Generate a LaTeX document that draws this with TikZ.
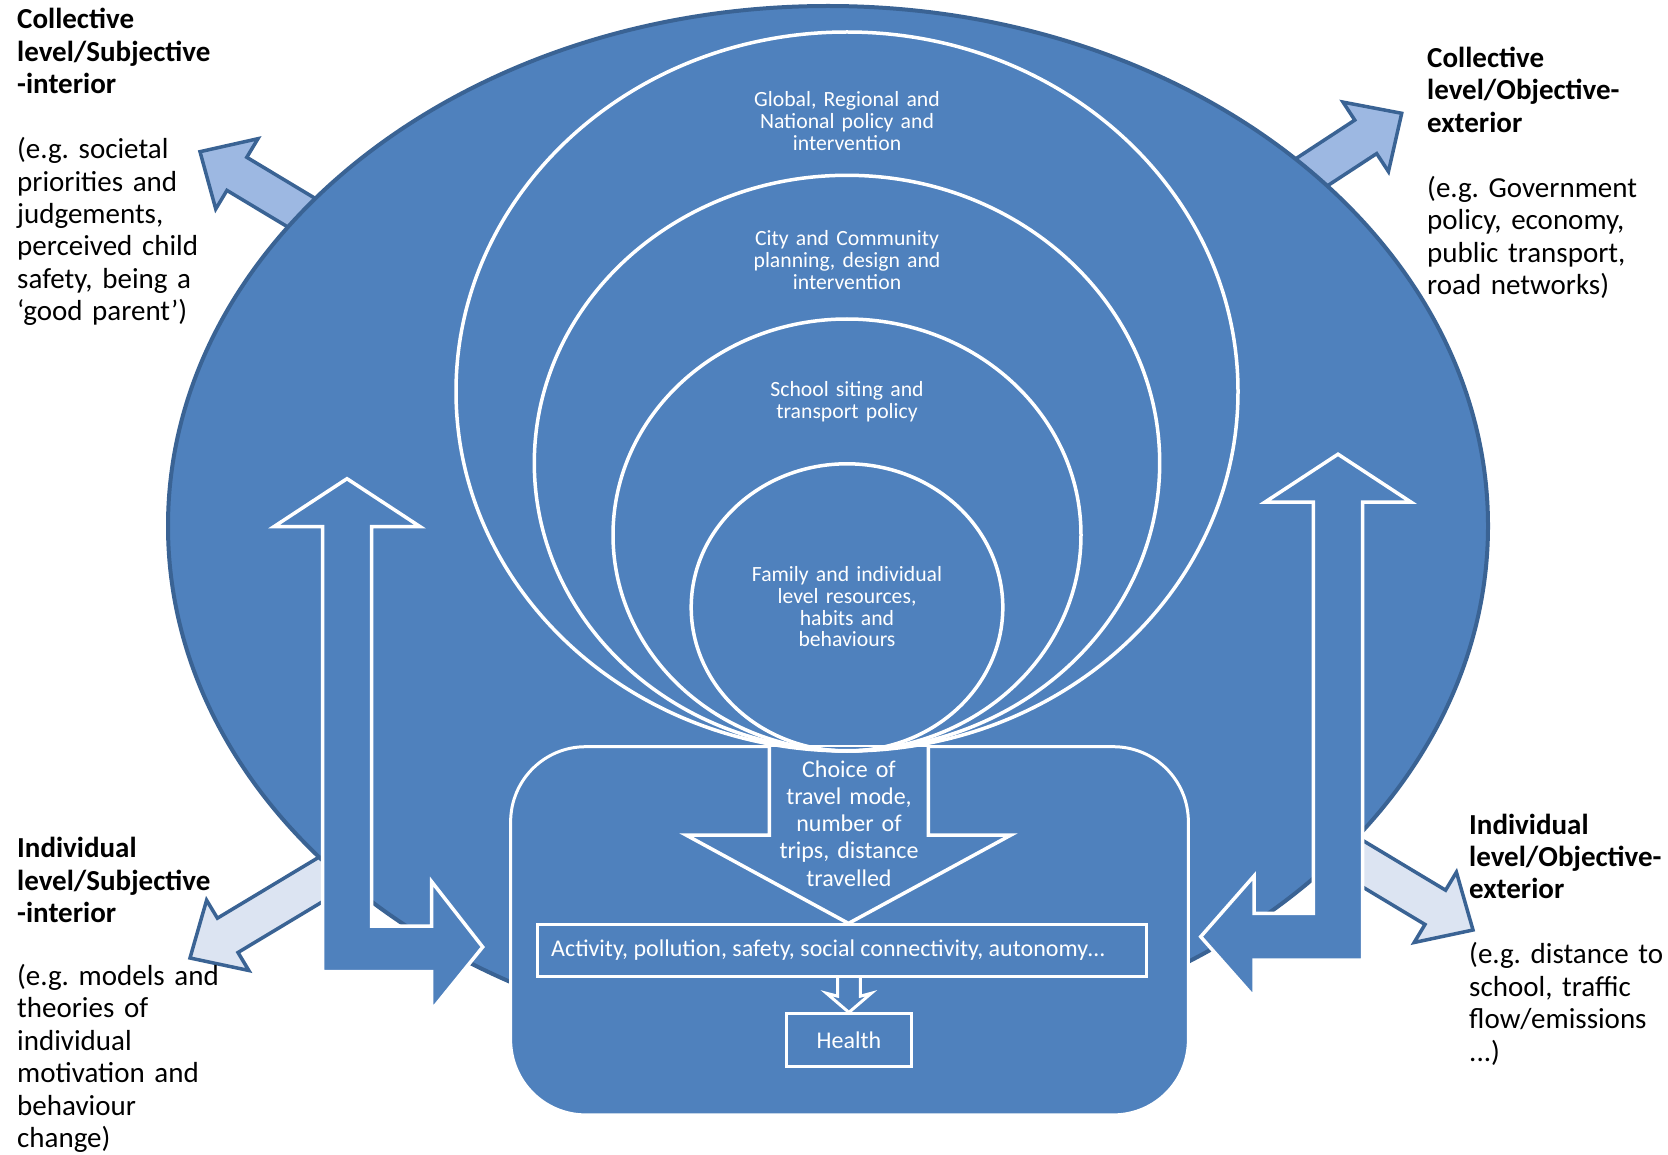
\documentclass[tikz,border=0pt]{standalone}
\usepackage{fontspec}
\setmainfont{Carlito}
\usetikzlibrary{shapes.geometric,calc}
\definecolor{mainblue}{HTML}{4F81BD}
\definecolor{edgeblue}{HTML}{3A6394}
\definecolor{lightblue}{RGB}{157,184,226}
\definecolor{paleblue}{RGB}{220,228,242}
\frenchspacing
\begin{document}
\begin{tikzpicture}[x=1pt,y=-1pt,
  bigshape/.style={ellipse, inner sep=0pt, fill=mainblue, draw=edgeblue, line width=4pt},
  ring/.style={ellipse, inner sep=0pt, draw=white, line width=3.5pt},
  wbox/.style={rectangle, draw=white, line width=3pt, fill=mainblue, inner sep=0pt, text=white},
  blockarrow/.style={fill=mainblue, draw=white, line width=3.5pt, line join=miter},
  extarrow/.style={draw=edgeblue, line width=3.5pt, line join=miter},
  headlbl/.style={anchor=base west, inner sep=0pt, text width=300pt, align=left, font=\bfseries\fontsize{29}{32.4}\selectfont},
  bodylbl/.style={anchor=base west, inner sep=0pt, text width=300pt, align=left, font=\fontsize{29}{32.4}\selectfont},
  ringtxt/.style={anchor=base, inner sep=0pt, text width=300pt, align=center, text=white, font=\fontsize{21.7}{21.8}\selectfont},
  boxtxt/.style={font=\fontsize{24}{27.1}\selectfont}
]
\useasboundingbox (0,0) rectangle (1668,1155);

% outward arrows (behind the big ellipse)
\begin{scope}[shift={(200,151.7)}, rotate=149]
  \draw[extarrow, fill=lightblue] (0,0) -- (-43,41) -- (-43,19.3) -- (-140,19.3) -- (-140,-19.3) -- (-43,-19.3) -- (-43,-41) -- cycle;
\end{scope}
\begin{scope}[shift={(1401.7,113.3)}, rotate=33.2]
  \draw[extarrow, fill=lightblue] (0,0) -- (-43,41.5) -- (-43,20) -- (-135,20) -- (-135,-20) -- (-43,-20) -- (-43,-41.5) -- cycle;
\end{scope}
\begin{scope}[shift={(190,958)}, rotate=-149]
  \draw[extarrow, fill=paleblue] (0,0) -- (-44,41) -- (-44,20) -- (-185,20) -- (-185,-20) -- (-44,-20) -- (-44,-41) -- cycle;
\end{scope}
\begin{scope}[shift={(1473,930)}, rotate=-31]
  \draw[extarrow, fill=paleblue] (0,0) -- (-44,41) -- (-44,20) -- (-170,20) -- (-170,-20) -- (-44,-20) -- (-44,-41) -- cycle;
\end{scope}

% big ellipse
\node[bigshape, minimum width=1320pt, minimum height=1040pt] (big) at (828,526) {};

% L-shaped double arrows
\filldraw[blockarrow] (347,478.7) -- (420,526.6) -- (371.7,526.6) -- (371.7,926) -- (431.7,926) -- (431.7,881.7) -- (482.7,947) -- (431.7,1010) -- (431.7,971.7) -- (322.7,971.7) -- (322.7,526.6) -- (274,526.6) -- cycle;
\filldraw[blockarrow] (1338,454.2) -- (1411,502.1) -- (1362.7,502.1) -- (1362.7,960) -- (1254,960) -- (1254,997) -- (1200.7,936.7) -- (1254,876) -- (1254,913.3) -- (1313.3,913.3) -- (1313.3,502.1) -- (1265,502.1) -- cycle;

% bottom rounded box
\node[wbox, rounded corners=75pt, minimum width=677.7pt, minimum height=368.2pt] (base) at (849.5,930.8) {};

% choice arrow
\filldraw[blockarrow] (769.3,747) -- (769.3,835) -- (686,835) -- (848.5,923.4) -- (1011,835) -- (928.3,835) -- (928.3,747);

% nested ellipses
\node[ring, minimum width=782pt, minimum height=719pt] (ring1) at (847,391.5) {};
\node[ring, minimum width=625.4pt, minimum height=575.4pt] (ring2) at (847,463) {};
\node[ring, minimum width=468pt, minimum height=432pt] (ring3) at (847,535) {};
\node[ring, minimum width=311.6pt, minimum height=287.2pt] (ring4) at (847,607.4) {};

% outcome boxes
\node[wbox, boxtxt, minimum width=609.6pt, minimum height=52.2pt] (act) at (842,950.5) {\makebox[581.6pt][l]{Activity, pollution, safety, social connectivity, autonomy…}};
\node[wbox, boxtxt, minimum width=125.7pt, minimum height=52.2pt] (health) at (848.9,1040) {Health};
\filldraw[blockarrow, line width=3pt] ($(act.south)+(-4.3,0)$) -- ($(act.south)+(-4.3,18.1)$) -- ($(health.north)+(-22.3,-19.1)$) -- (health.north) -- ($(health.north)+(22.3,-19.1)$) -- ($(act.south)+(18.3,18.1)$) -- ($(act.south)+(18.3,0)$);

% ring labels
\node[ringtxt] (tglobal) at (847,106.5) {Global, Regional and\\National policy and\\intervention};
\node[ringtxt] (tcity) at (847,246) {City and Community\\planning, design and\\intervention};
\node[ringtxt] (tschool) at (847,396.4) {School siting and\\transport policy};
\node[ringtxt] (tfamily) at (847,581.5) {Family and individual\\level resources,\\habits and\\behaviours};
\node[ringtxt, boxtxt, text width=220pt] (tchoice) at (849,777.6) {Choice of\\travel mode,\\number of\\trips, distance\\travelled};

% quadrant labels
\node[headlbl] (tlhead) at (17,28.7) {Collective\\level/Subjective\\-interior};
\node[bodylbl] (tlbody) at (17,158.7) {(e.g. societal\\priorities and\\judgements,\\perceived child\\safety, being a\\‘good parent’)};
\node[headlbl] (trhead) at (1427,67.5) {Collective\\level/Objective-\\exterior};
\node[bodylbl] (trbody) at (1427,197.5) {(e.g. Government\\policy, economy,\\public transport,\\road networks)};
\node[headlbl] (blhead) at (17,857.6) {Individual\\level/Subjective\\-interior};
\node[bodylbl] (blbody) at (17,985.4) {(e.g. models and\\theories of\\individual\\motivation and\\behaviour\\change)};
\node[headlbl] (brhead) at (1469,834) {Individual\\level/Objective-\\exterior};
\node[bodylbl] (brbody) at (1469,963.8) {(e.g. distance to\\school, traffic\\flow/emissions\\...)};
\end{tikzpicture}
\end{document}
